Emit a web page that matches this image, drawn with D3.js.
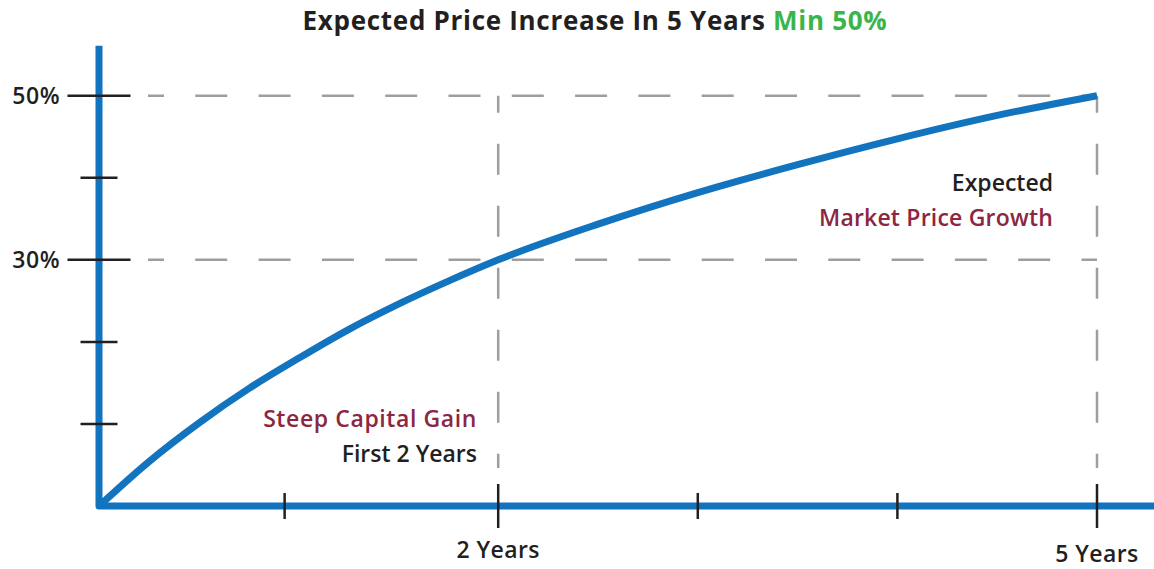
<!DOCTYPE html>
<html>
<head>
<meta charset="utf-8">
<script src="https://cdnjs.cloudflare.com/ajax/libs/d3/7.8.5/d3.min.js"></script>
<style>
  html, body { margin: 0; padding: 0; background: #fff; }
  svg { display: block; font-family: "Open Sans", Lato, sans-serif; font-weight: 600; }
</style>
</head>
<body>
<svg id="chart" width="1154" height="569"></svg>
<script>
// years after purchase and expected price increase (%)
var years  = [0, 0.25, 0.5, 0.75, 1, 1.25, 1.5, 1.75, 2, 2.5, 3, 3.5, 4, 4.5, 5];
var growth = [0, 5.4, 10.1, 14.3, 18, 21.5, 24.6, 27.4, 30, 34.35, 38.2, 41.6, 44.75, 47.6, 50];

var yMajorTicks = [30, 50];
var yMinorTicks = [10, 20, 40];
var yTickLabels = ["30%", "50%"];

var xMajorTicks = [2, 5];
var xMinorTicks = [0.93, 3, 4];
var xTickLabels = ["2 Years", "5 Years"];

(function() {

  var width = 1154,
      height = 569;

  var blue = '#1273bf',
      ink = '#231f20',
      wine = '#8c2641',
      green = '#3ab54a',
      grey = '#9e9ea1';

  var xScale = d3.scaleLinear()
      .domain([0, 5])
      .range([99, 1097]);

  var yScale = d3.scaleLinear()
      .domain([0, 50])
      .range([506, 95.7]);

  var svg = d3.select('#chart');

  var lineGenerator = d3.line()
      .x(function(d) { return xScale(d[0]); })
      .y(function(d) { return yScale(d[1]); })
      .curve(d3.curveMonotoneX);

  var points = years.map(function(d, i) { return [d, growth[i]]; });

  // dashed guides
  svg.append('g')
      .selectAll('line')
      .data(yMajorTicks)
    .enter().append('line')
      .attr('x1', 148)
      .attr('x2', xScale(5))
      .attr('y1', function(d) { return yScale(d); })
      .attr('y2', function(d) { return yScale(d); })
      .attr('stroke', grey)
      .attr('stroke-width', 2.5)
      .attr('stroke-dasharray', '32,31.3')
      .attr('stroke-dashoffset', 16);

  svg.append('g')
      .selectAll('line')
      .data(xMajorTicks)
    .enter().append('line')
      .attr('x1', function(d) { return xScale(d); })
      .attr('x2', function(d) { return xScale(d); })
      .attr('y1', yScale(50))
      .attr('y2', 468)
      .attr('stroke', grey)
      .attr('stroke-width', 2.5)
      .attr('stroke-dasharray', '31,31')
      .attr('stroke-dashoffset', 14);

  // axes
  svg.append('path')
      .attr('d', 'M' + xScale(0) + ',' + yScale(56.1) + 'V' + yScale(0) + 'H' + width)
      .attr('fill', 'none')
      .attr('stroke', blue)
      .attr('stroke-width', 7)
      .attr('stroke-linejoin', 'round');

  // y ticks
  svg.append('g')
      .selectAll('line')
      .data(yMajorTicks.map(function(d) { return [d, 31.5]; })
        .concat(yMinorTicks.map(function(d) { return [d, 18.5]; })))
    .enter().append('line')
      .attr('x1', function(d) { return xScale(0) - d[1]; })
      .attr('x2', function(d) { return xScale(0) + d[1]; })
      .attr('y1', function(d) { return yScale(d[0]); })
      .attr('y2', function(d) { return yScale(d[0]); })
      .attr('stroke', ink)
      .attr('stroke-width', 2.5);

  // x ticks
  svg.append('g')
      .selectAll('line')
      .data(xMajorTicks.map(function(d) { return [d, 22]; })
        .concat(xMinorTicks.map(function(d) { return [d, 13]; })))
    .enter().append('line')
      .attr('x1', function(d) { return xScale(d[0]); })
      .attr('x2', function(d) { return xScale(d[0]); })
      .attr('y1', function(d) { return yScale(0) - d[1]; })
      .attr('y2', function(d) { return yScale(0) + d[1]; })
      .attr('stroke', ink)
      .attr('stroke-width', 2.5);

  // the growth curve
  svg.append('path')
      .datum(points)
      .attr('d', lineGenerator)
      .attr('fill', 'none')
      .attr('stroke', blue)
      .attr('stroke-width', 7);

  // tick labels
  svg.append('g')
      .selectAll('text')
      .data(yMajorTicks)
    .enter().append('text')
      .attr('x', 60)
      .attr('y', function(d) { return yScale(d) + 8; })
      .attr('text-anchor', 'end')
      .attr('font-size', 23)
      .attr('letter-spacing', 0.5)
      .attr('fill', ink)
      .text(function(d, i) { return yTickLabels[i]; });

  svg.append('g')
      .selectAll('text')
      .data(xMajorTicks)
    .enter().append('text')
      .attr('x', function(d) { return xScale(d); })
      .attr('y', function(d, i) { return i ? 562 : 558; })
      .attr('text-anchor', 'middle')
      .attr('font-size', 23)
      .attr('letter-spacing', 0.4)
      .attr('fill', ink)
      .text(function(d, i) { return xTickLabels[i]; });

  // title
  var title = svg.append('text')
      .attr('x', 595)
      .attr('y', 30)
      .attr('text-anchor', 'middle')
      .attr('font-size', 26)
      .attr('font-weight', 700)
      .attr('letter-spacing', 0.7)
      .attr('fill', ink);

  title.append('tspan').text('Expected Price Increase In 5 Years ');
  title.append('tspan').attr('fill', green).text('Min 50%');

  // annotations
  var notes = [
    {text: 'Expected', x: 1053, y: 191, color: ink, spacing: 0},
    {text: 'Market Price Growth', x: 1053, y: 226, color: wine, spacing: 0.2},
    {text: 'Steep Capital Gain', x: 477, y: 427, color: wine, spacing: 0.6},
    {text: 'First 2 Years', x: 477, y: 462, color: ink, spacing: 0}
  ];

  svg.append('g')
      .selectAll('text')
      .data(notes)
    .enter().append('text')
      .attr('x', function(d) { return d.x; })
      .attr('y', function(d) { return d.y; })
      .attr('text-anchor', 'end')
      .attr('font-size', 23)
      .attr('letter-spacing', function(d) { return d.spacing; })
      .attr('fill', function(d) { return d.color; })
      .text(function(d) { return d.text; });

})()
</script>
</body>
</html>
